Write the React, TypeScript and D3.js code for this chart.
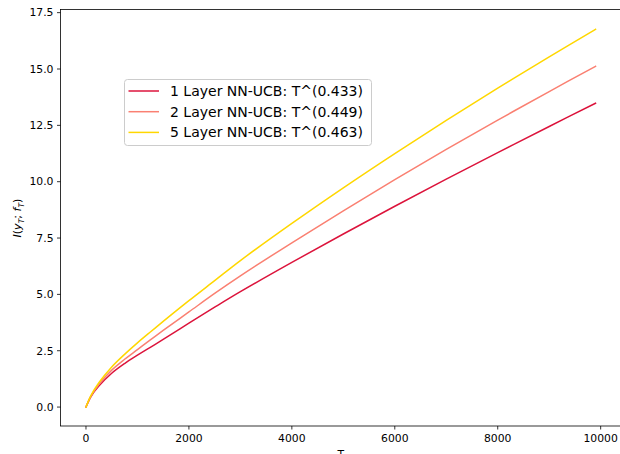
import React from "react";
import * as d3 from "d3";

const T = [0, 100, 250, 500, 750, 1000, 1250, 1500, 2000, 2500, 3000, 4000, 5000, 6000, 7000, 8000, 9000, 9900];
const layer1 = [0, 0.48, 0.93, 1.5, 1.93, 2.3, 2.65, 3.0, 3.72, 4.43, 5.12, 6.42, 7.68, 8.91, 10.11, 11.29, 12.45, 13.48];
const layer2 = [0, 0.5, 1.0, 1.64, 2.12, 2.55, 2.98, 3.4, 4.22, 5.04, 5.82, 7.29, 8.71, 10.09, 11.43, 12.73, 14.0, 15.12];
const layer5 = [0, 0.53, 1.08, 1.78, 2.34, 2.85, 3.33, 3.8, 4.72, 5.61, 6.5, 8.15, 9.73, 11.25, 12.72, 14.15, 15.54, 16.76];

const seriesNames = ["1 Layer NN-UCB: T^(0.433)", "2 Layer NN-UCB: T^(0.449)", "5 Layer NN-UCB: T^(0.463)"];
const seriesColors = ["#dc143c", "#fa8072", "#ffd700"];
const xTicks = [0, 2000, 4000, 6000, 8000, 10000];
const yTicks = [0, 2.5, 5, 7.5, 10, 12.5, 15, 17.5];

export default function App() {
  const W = 620, H = 454;
  const left = 60.5, right = 621, top = 9.5, bottom = 426;
  const x = d3.scaleLinear().domain([-495, 10395]).range([left, right]);
  const y = d3.scaleLinear().domain([-0.84, 17.64]).range([bottom, top]);
  const series = [layer1, layer2, layer5];
  const line = d3
    .line<number>()
    .x((_, i) => x(T[i]))
    .y((d) => y(d))
    .curve(d3.curveCatmullRom.alpha(0.5));
  const font = "'DejaVu Sans', sans-serif";

  return (
    <svg width={W} height={H} style={{ position: "absolute", left: 0, top: 0, background: "#fff" }} fontFamily={font}>
      <rect x={0} y={0} width={W} height={H} fill="#fff" />
      <defs>
        <clipPath id="plotclip">
          <rect x={left} y={top} width={right - left} height={bottom - top} />
        </clipPath>
      </defs>
      <g clipPath="url(#plotclip)">
        {series.map((s, k) => (
          <path key={k} d={line(s) || ""} fill="none" stroke={seriesColors[k]} strokeWidth={1.5} strokeLinejoin="round" strokeLinecap="square" />
        ))}
      </g>
      {/* spines */}
      <rect x={left} y={top} width={right - left} height={bottom - top} fill="none" stroke="#000" strokeWidth={0.8} />
      {/* x ticks */}
      {xTicks.map((t) => (
        <g key={t} transform={`translate(${x(t)},0)`}>
          <line y1={bottom} y2={bottom + 3.5} stroke="#000" strokeWidth={0.8} />
          <text y={bottom + 16} textAnchor="middle" fontSize={10.8} fill="#000">
            {t}
          </text>
        </g>
      ))}
      {/* y ticks */}
      {yTicks.map((t) => (
        <g key={t} transform={`translate(0,${y(t)})`}>
          <line x1={left - 3.5} x2={left} stroke="#000" strokeWidth={0.8} />
          <text x={left - 7} dy="0.35em" textAnchor="end" fontSize={10.8} fill="#000">
            {t.toFixed(1)}
          </text>
        </g>
      ))}
      {/* x label */}
      <text x={(left + right) / 2} y={458} textAnchor="middle" fontSize={10.8} fill="#000">
        T
      </text>
      {/* y label */}
      <text transform={`translate(21,218) rotate(-90)`} textAnchor="middle" fontSize={11} fill="#000">
        <tspan fontStyle="italic">I</tspan>
        <tspan>(</tspan>
        <tspan fontStyle="italic">y</tspan>
        <tspan fontStyle="italic" fontSize={7.7} dy={2.5}>T</tspan>
        <tspan dy={-2.5}>; </tspan>
        <tspan fontStyle="italic">f</tspan>
        <tspan fontStyle="italic" fontSize={7.7} dy={2.5}>T</tspan>
        <tspan dy={-2.5}>)</tspan>
      </text>
      {/* legend */}
      <g>
        <rect x={124.5} y={79.5} width={247} height={66} rx={3} fill="#fff" fillOpacity={0.8} stroke="#cccccc" strokeWidth={1} />
        {seriesNames.map((n, k) => {
          const ly = 91 + k * 20.7;
          return (
            <g key={n}>
              <line x1={128.5} x2={159} y1={ly} y2={ly} stroke={seriesColors[k]} strokeWidth={1.5} />
              <text x={170} y={ly} dy="0.36em" fontSize={14} fill="#000">
                {n}
              </text>
            </g>
          );
        })}
      </g>
    </svg>
  );
}
